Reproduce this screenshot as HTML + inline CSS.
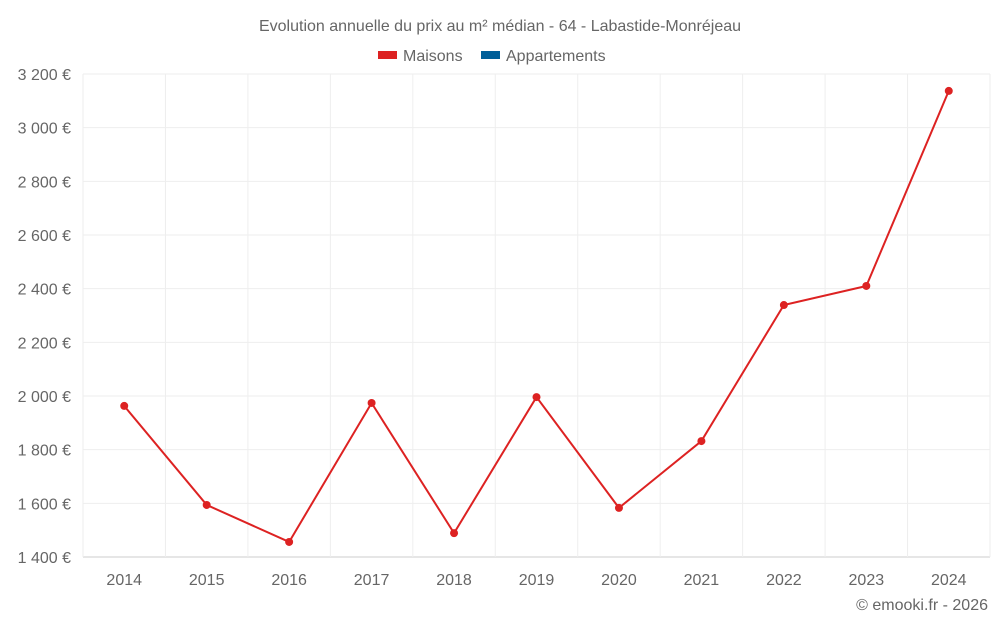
<!DOCTYPE html>
<html><head><meta charset="utf-8"><style>
body{margin:0;background:#fff;font-family:"Liberation Sans",sans-serif;}
svg text{font-family:"Liberation Sans",sans-serif;fill:#666;}
</style></head><body>
<svg id="chart" width="1000" height="625">
<text x="500" y="31" text-anchor="middle" font-size="16">Evolution annuelle du prix au m² médian - 64 - Labastide-Monréjeau</text>
<g><rect x="378" y="51" width="19" height="8" fill="#dd2222"/><text x="403" y="61" font-size="16">Maisons</text></g>
<g><rect x="481" y="51" width="19" height="8" fill="#005f99"/><text x="506" y="61" font-size="16">Appartements</text></g>
<g id="grid"></g><g id="series"></g>
<text x="988" y="610" text-anchor="end" font-size="16">© emooki.fr - 2026</text>
</svg>
<script>
const categories=["2014","2015","2016","2017","2018","2019","2020","2021","2022","2023","2024"];
const maisons=[1963,1594,1456,1974,1489,1996,1583,1832,2339,2410,3137];
const yTicks=[1400,1600,1800,2000,2200,2400,2600,2800,3000,3200];
const NS="http://www.w3.org/2000/svg";
const L=83,R=990,T=74,B=557,ymin=1400,ymax=3200;
const band=(R-L)/categories.length;
const x=i=>L+band*(i+0.5);
const y=v=>B-(v-ymin)/(ymax-ymin)*(B-T);
function mk(tag,attrs,parent){const e=document.createElementNS(NS,tag);for(const k in attrs)e.setAttribute(k,attrs[k]);parent.appendChild(e);return e;}
const g=document.getElementById('grid'),s=document.getElementById('series');
yTicks.forEach(v=>{
 const l=mk('line',{x1:L,x2:R,y1:y(v),y2:y(v),stroke:v===ymin?'#ccc':'#eee'},g);
 
 
 const t=mk('text',{x:71,y:y(v)+6,'text-anchor':'end','font-size':16},g);
 t.textContent=v.toLocaleString('fr-FR').replace(/\s/g,' ')+' €';
 
 
});
for(let i=0;i<=categories.length;i++){
 const l=mk('line',{x1:L+band*i,x2:L+band*i,y1:T,y2:B,stroke:'#eee'},g);
 
 
}
categories.forEach((c,i)=>{
 const t=mk('text',{x:x(i),y:585,'text-anchor':'middle','font-size':16},g);
 t.textContent=c;
 
 
});
const p=mk('polyline',{points:maisons.map((v,i)=>x(i)+','+y(v)).join(' '),fill:'none',stroke:'#dd2222','stroke-width':2},s);


maisons.forEach((v,i)=>{
 const c=mk('circle',{cx:x(i),cy:y(v),r:4,fill:'#dd2222'},s);
 
 
});
</script>
</body></html>
